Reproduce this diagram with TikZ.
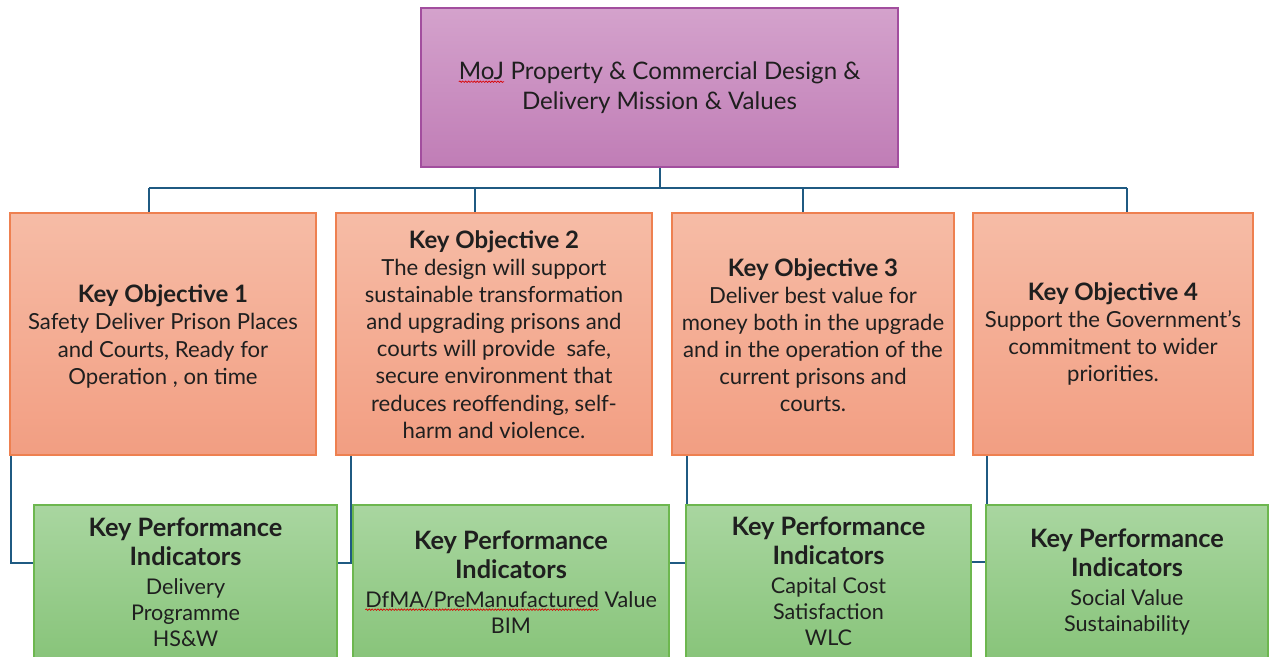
\documentclass[tikz,border=0pt]{standalone}
\usepackage{fontspec}
\setmainfont{Lato}
\usetikzlibrary{calc,decorations.pathmorphing}
\definecolor{conncol}{HTML}{1F5A82}
\definecolor{topA}{HTML}{D4A2CC}
\definecolor{topB}{HTML}{C07DB6}
\definecolor{topD}{HTML}{A24E9E}
\definecolor{objA}{HTML}{F6BCA6}
\definecolor{objB}{HTML}{F29E82}
\definecolor{objD}{HTML}{EE8050}
\definecolor{kpiA}{HTML}{A9D6A0}
\definecolor{kpiB}{HTML}{88C47A}
\definecolor{kpiD}{HTML}{6DB74F}
\newcommand\squig[1]{\tikz[baseline=(w.base)]{\node[inner sep=0pt, outer sep=0pt] (w) {#1};
  \draw[red!85!black, line width=0.5pt, decorate, decoration={snake, amplitude=0.55pt, segment length=2.2pt}]
    ([yshift=-1.8pt]w.base west) -- ([yshift=-1.8pt]w.base east);}}
\tikzset{
  conn/.style={draw=conncol, line width=1.6pt},
  topbox/.style={rectangle, draw=topD, line width=1.2pt, top color=topA, bottom color=topB, inner sep=0pt},
  objbox/.style={rectangle, draw=objD, line width=1.2pt, top color=objA, bottom color=objB, inner sep=0pt, minimum height=181.5pt},
  kpibox/.style={rectangle, draw=kpiD, line width=1.2pt, top color=kpiA, bottom color=kpiB, inner sep=0pt, minimum height=115.5pt},
  toptext/.style={align=center, inner sep=0pt, font=\fontsize{18.1}{22.5}\selectfont, text=black!88},
  objtext/.style={align=center, inner sep=0pt, font=\fontsize{16.6}{20.3}\selectfont, text=black!88},
  kpitext/.style={align=center, inner sep=0pt, font=\fontsize{16.2}{19.5}\selectfont, text=black!88},
}
\newcommand{\objtitle}[1]{{\fontsize{18}{21}\selectfont\bfseries #1}}
\newcommand{\kpititle}[1]{{\fontsize{19}{22}\selectfont\bfseries #1}}
\begin{document}
\begin{tikzpicture}[x=0.75pt,y=-0.75pt]
\useasboundingbox (0,0) rectangle (1272,657);
\clip (0,0) rectangle (1272,657);
\fill[white] (0,0) rectangle (1272,657);

% top box
\node[topbox, minimum width=357.75pt, minimum height=119.25pt] (top) at (659.5,87.5) {};
\node[toptext] (tt) at (659.5,87.5)
  {\squig{MoJ} Property \& Commercial Design \&\\Delivery Mission \& Values};

% objective boxes
\node[objbox, minimum width=229.5pt] (o1) at (163,334) {};
\node[objbox, minimum width=237pt] (o2) at (494,334) {};
\node[objbox, minimum width=211.5pt] (o3) at (813,334) {};
\node[objbox, minimum width=210pt] (o4) at (1113,334) {};

% bus connectors
\coordinate (b1) at (149,188);
\coordinate (b2) at (475,188);
\coordinate (b3) at (803,188);
\coordinate (b4) at (1127,188);
\draw[conn] (top.south -| 660,0) -- (660,188);
\draw[conn] (b1) -- (b4);
\draw[conn] (b1) -- (b1 |- o1.north);
\draw[conn] (b2) -- (b2 |- o2.north);
\draw[conn] (b3) -- (b3 |- o3.north);
\draw[conn] (b4) -- (b4 |- o4.north);

% KPI connector ends
\coordinate (k1w) at (34,563);
\coordinate (k2w) at (353,563);
\coordinate (k3w) at (686,563);
\coordinate (k4w) at (986,562);

% lower connectors
\draw[conn] ([xshift=1.5pt]o1.south west) |- (k1w);
\draw[conn] ([xshift=12pt]o2.south west) |- (k2w);
\draw[conn] ([xshift=12pt]o3.south west) |- (k3w);
\draw[conn] ([xshift=11.25pt]o4.south west) |- (k4w);
\draw[conn] (337,563) -- (k2w);
\draw[conn] (669,563) -- (k3w);
\draw[conn] (971,562) -- (k4w);

% KPI boxes
\node[kpibox, minimum width=227.25pt] (k1) at (185.5,582) {};
\node[kpibox, minimum width=237pt] (k2) at (511,582) {};
\node[kpibox, minimum width=213.75pt] (k3) at (828.5,582) {};
\node[kpibox, minimum width=211.5pt] (k4) at (1127,582) {};

% objective texts
\node[objtext] (t1) at (163,336.5) {\objtitle{Key Objective 1}\\Safety Deliver Prison Places\\and Courts, Ready for\\Operation , on time};
\node[objtext] (t2) at (494,334.5) {\objtitle{Key Objective 2}\\The design will support\\sustainable transformation\\and upgrading prisons and\\courts will provide\ \ safe,\\secure environment that\\reduces reoffending, self-\\harm and violence.};
\node[objtext] (t3) at (813,335) {\objtitle{Key Objective 3}\\Deliver best value for\\money both in the upgrade\\and in the operation of the\\current prisons and\\courts.};
\node[objtext] (t4) at (1113,334) {\objtitle{Key Objective 4}\\Support the Government’s\\commitment to wider\\priorities.};

% KPI texts
\node[kpitext] (u1) at (185.5,582) {\kpititle{Key Performance}\\[2.2pt]\kpititle{Indicators}\\[2.2pt]Delivery\\Programme\\HS\&W};
\node[kpitext] (u2) at (511,582) {\kpititle{Key Performance}\\[2.2pt]\kpititle{Indicators}\\[2.2pt]\squig{DfMA/PreManufactured} Value\\BIM};
\node[kpitext] (u3) at (828.5,581) {\kpititle{Key Performance}\\[2.2pt]\kpititle{Indicators}\\[2.2pt]Capital Cost\\Satisfaction\\WLC};
\node[kpitext] (u4) at (1127,582) {\kpititle{Key Performance}\\[2.2pt]\kpititle{Indicators}\\[2.2pt]Social Value\\Sustainability};
\end{tikzpicture}
\end{document}
